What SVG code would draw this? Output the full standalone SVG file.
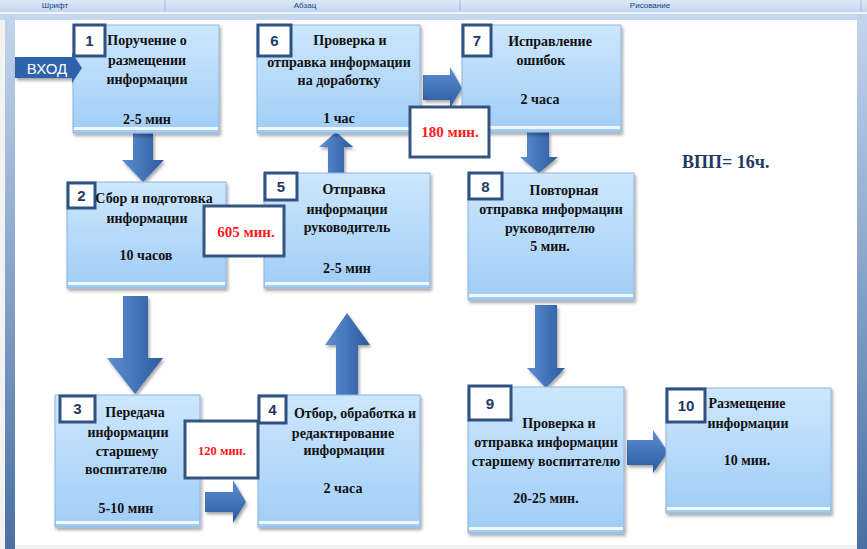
<svg xmlns="http://www.w3.org/2000/svg" width="867" height="549" viewBox="0 0 867 549">
<defs>
  <linearGradient id="boxg" x1="0" y1="0" x2="0" y2="1">
    <stop offset="0" stop-color="#cde7fd"/>
    <stop offset="1" stop-color="#a0cdf6"/>
  </linearGradient>
  <linearGradient id="arrv" x1="0" y1="0" x2="1" y2="0">
    <stop offset="0" stop-color="#5d8fd2"/>
    <stop offset="1" stop-color="#2c5a9e"/>
  </linearGradient>
  <linearGradient id="arrh" x1="0" y1="0" x2="0" y2="1">
    <stop offset="0" stop-color="#5d8fd2"/>
    <stop offset="1" stop-color="#2c5a9e"/>
  </linearGradient>
  <linearGradient id="barg" x1="0" y1="0" x2="0" y2="1">
    <stop offset="0" stop-color="#c3d5ec"/>
    <stop offset="1" stop-color="#4a6fa3"/>
  </linearGradient>
  <linearGradient id="tbg" x1="0" y1="0" x2="0" y2="1">
    <stop offset="0" stop-color="#dde8f6"/>
    <stop offset="1" stop-color="#c3d6ee"/>
  </linearGradient>
  <filter id="sh" x="-10%" y="-10%" width="125%" height="125%">
    <feDropShadow dx="1.5" dy="2.5" stdDeviation="1.5" flood-color="#000" flood-opacity="0.35"/>
  </filter>
</defs>
<style>
  .box{fill:url(#boxg);stroke:#8fb6de;stroke-width:1;filter:url(#sh)}
  .refl{fill:#ffffff;opacity:0.85}
  .sq{fill:#ffffff;stroke:#2f5283;stroke-width:3}
  .num{font-family:"Liberation Sans",Arial,sans-serif;font-weight:bold;font-size:15px;fill:#1f3864;text-anchor:middle}
  .t{font-family:"Liberation Serif","Times New Roman",serif;font-weight:bold;font-size:14px;fill:#111111;text-anchor:middle}
  .lab{fill:#ffffff;stroke:#34557f;stroke-width:3}
  .red{font-family:"Liberation Serif","Times New Roman",serif;font-weight:bold;fill:#ff1a1a;text-anchor:middle}
  .av{fill:url(#arrv);filter:url(#sh)}
  .ah{fill:url(#arrh);filter:url(#sh)}
  .tb{font-family:"Liberation Sans",Arial,sans-serif;font-size:8px;fill:#15428b;text-anchor:middle}
</style>

<!-- window frame -->
<rect x="0" y="0" width="867" height="549" fill="#f2f2f2"/>
<rect x="0" y="0" width="867" height="12" fill="url(#tbg)"/>
<text class="tb" x="55" y="8">Шрифт</text>
<text class="tb" x="305" y="8">Абзац</text>
<text class="tb" x="650" y="8">Рисование</text>
<line x1="165" y1="0" x2="165" y2="11" stroke="#9db6d6"/>
<line x1="460" y1="0" x2="460" y2="11" stroke="#9db6d6"/>
<line x1="861" y1="0" x2="861" y2="11" stroke="#9db6d6"/>
<rect x="0" y="12" width="867" height="2" fill="#eef4fb"/>
<rect x="0" y="14" width="867" height="6" fill="#c6d8ee"/>
<rect x="5" y="14" width="10" height="535" fill="url(#barg)"/>
<rect x="857" y="14" width="10" height="535" fill="url(#barg)"/>
<rect x="15" y="20" width="842" height="525" fill="#ffffff"/>

<!-- connectors -->
<g id="connectors">
  <polygon id="a_in" points="15,57 72,57 72,53 82,68 72,83 72,78 15,78" fill="#2f62ad" filter="url(#sh)"/>
  <polygon id="a1-2" class="av" points="133,133 153,133 153,160 164,160 143,182 122,160 133,160"/>
  <polygon id="a2-3" class="av" points="123,296 148,296 148,358 163,358 135,394 107,358 123,358"/>
  <polygon id="a3-4" class="ah" points="205,492 233,492 233,480 246,502 233,523 233,512 205,512"/>
  <polygon id="a4-5" class="av" points="336,395 358,395 358,345 370,345 347,313 325,345 336,345"/>
  <polygon id="a5-6" class="av" points="328,173 344,173 344,147 353,147 336,132 319,147 328,147"/>
  <polygon id="a6-7" class="ah" points="423,75 450,75 450,67 462,88 450,108 450,100 423,100"/>
  <polygon id="a7-8" class="av" points="527,132 549,132 549,157 558,157 539,173 520,157 527,157"/>
  <polygon id="a8-9" class="av" points="535,305 557,305 557,368 565,368 546,388 527,368 535,368"/>
  <polygon id="a9-10" class="ah" points="627,440 653,440 653,430 668,452 653,473 653,465 627,465"/>
</g>

<g id="node1">
  <rect class="box" x="73" y="25" width="146" height="108"/>
  <rect class="refl" x="74" y="127" width="144" height="3"/>
  <rect class="sq" x="74" y="25" width="31" height="31"/>
  <text class="num" x="89.5" y="46">1</text>
  <text class="t" x="147" y="45">Поручение о</text>
  <text class="t" x="147" y="65">размещении</text>
  <text class="t" x="147" y="84">информации</text>
  <text class="t" x="147" y="124">2-5 мин</text>
</g>
<!-- entry arrow over box 1 -->
<g id="entry">
  <polygon points="72,57 72,53 82,68 72,83 72,78" fill="#2f62ad"/>
  <text x="47" y="74" font-family="'Liberation Sans',Arial,sans-serif" font-size="15" fill="#ffffff" text-anchor="middle">ВХОД</text>
</g>

<g id="node2">
  <rect class="box" x="67" y="182" width="159" height="106"/>
  <rect class="refl" x="68" y="282" width="157" height="3"/>
  <rect class="sq" x="68" y="183" width="27" height="25"/>
  <text class="num" x="81.5" y="201">2</text>
  <text class="t" x="154" y="203">Сбор и подготовка</text>
  <text class="t" x="147" y="223">информации</text>
  <text class="t" x="146" y="260">10 часов</text>
</g>

<g id="node3">
  <rect class="box" x="55" y="395" width="145" height="132"/>
  <rect class="refl" x="56" y="521" width="143" height="3"/>
  <rect class="sq" x="60" y="396" width="35" height="26"/>
  <text class="num" x="77.5" y="414">3</text>
  <text class="t" x="135" y="417">Передача</text>
  <text class="t" x="128" y="437">информации</text>
  <text class="t" x="127" y="456">старшему</text>
  <text class="t" x="126" y="474">воспитателю</text>
  <text class="t" x="126" y="513">5-10 мин</text>
</g>

<g id="node4">
  <rect class="box" x="258" y="395" width="162" height="132"/>
  <rect class="refl" x="259" y="521" width="160" height="3"/>
  <rect class="sq" x="259" y="396" width="27" height="27"/>
  <text class="num" x="272.5" y="415">4</text>
  <text class="t" x="355" y="418">Отбор, обработка и</text>
  <text class="t" x="343" y="438">редактирование</text>
  <text class="t" x="344" y="455">информации</text>
  <text class="t" x="343" y="493">2 часа</text>
</g>

<g id="node5">
  <rect class="box" x="264" y="173" width="166" height="115"/>
  <rect class="refl" x="265" y="282" width="164" height="3"/>
  <rect class="sq" x="265" y="173" width="32" height="27"/>
  <text class="num" x="281" y="192">5</text>
  <text class="t" x="354" y="194">Отправка</text>
  <text class="t" x="347" y="214">информации</text>
  <text class="t" x="347" y="232">руководитель</text>
  <text class="t" x="347" y="273">2-5 мин</text>
</g>

<g id="node6">
  <rect class="box" x="257" y="25" width="163" height="108"/>
  <rect class="refl" x="258" y="127" width="161" height="3"/>
  <rect class="sq" x="258" y="25" width="33" height="31"/>
  <text class="num" x="274.5" y="46">6</text>
  <text class="t" x="350" y="45">Проверка и</text>
  <text class="t" x="339" y="67">отправка информации</text>
  <text class="t" x="339" y="85">на доработку</text>
  <text class="t" x="339" y="123">1 час</text>
</g>

<g id="node7">
  <rect class="box" x="462" y="25" width="159" height="107"/>
  <rect class="refl" x="463" y="126" width="157" height="3"/>
  <rect class="sq" x="463" y="25" width="28" height="31"/>
  <text class="num" x="477" y="46">7</text>
  <text class="t" x="550" y="46">Исправление</text>
  <text class="t" x="541" y="65">ошибок</text>
  <text class="t" x="540" y="104">2 часа</text>
</g>

<g id="node8">
  <rect class="box" x="468" y="173" width="166" height="127"/>
  <rect class="refl" x="469" y="294" width="164" height="3"/>
  <rect class="sq" x="469" y="173" width="33" height="26"/>
  <text class="num" x="485.5" y="192">8</text>
  <text class="t" x="564" y="195">Повторная</text>
  <text class="t" x="551" y="214">отправка информации</text>
  <text class="t" x="550" y="233">руководителю</text>
  <text class="t" x="550" y="251">5 мин.</text>
</g>

<g id="node9">
  <rect class="box" x="468" y="387" width="156" height="146"/>
  <rect class="refl" x="469" y="527" width="154" height="3"/>
  <rect class="sq" x="469" y="386" width="42" height="34"/>
  <text class="num" x="490" y="409">9</text>
  <text class="t" x="559" y="428">Проверка и</text>
  <text class="t" x="546" y="447">отправка информации</text>
  <text class="t" x="546" y="466">старшему воспитателю</text>
  <text class="t" x="546" y="503">20-25 мин.</text>
</g>

<g id="node10">
  <rect class="box" x="666" y="388" width="165" height="125"/>
  <rect class="refl" x="667" y="507" width="163" height="3"/>
  <rect class="sq" x="667" y="389" width="38" height="33"/>
  <text class="num" x="686" y="411">10</text>
  <text class="t" x="747" y="408">Размещение</text>
  <text class="t" x="748" y="428">информации</text>
  <text class="t" x="747" y="465">10 мин.</text>
</g>

<g id="label180">
  <rect class="lab" x="410" y="107" width="79" height="50"/>
  <text class="red" x="450" y="137" font-size="15">180 мин.</text>
</g>
<g id="label605">
  <rect class="lab" x="204" y="206" width="80" height="50"/>
  <text class="red" x="246" y="237" font-size="15">605 мин.</text>
</g>
<g id="label120">
  <rect class="lab" x="185" y="421" width="73" height="57"/>
  <text class="red" x="222" y="455" font-size="12.5">120 мин.</text>
</g>

<g id="total">
  <text x="682" y="168" font-family="'Liberation Serif','Times New Roman',serif" font-weight="bold" font-size="18" fill="#1f3864">ВПП= 16ч.</text>
</g>
</svg>
